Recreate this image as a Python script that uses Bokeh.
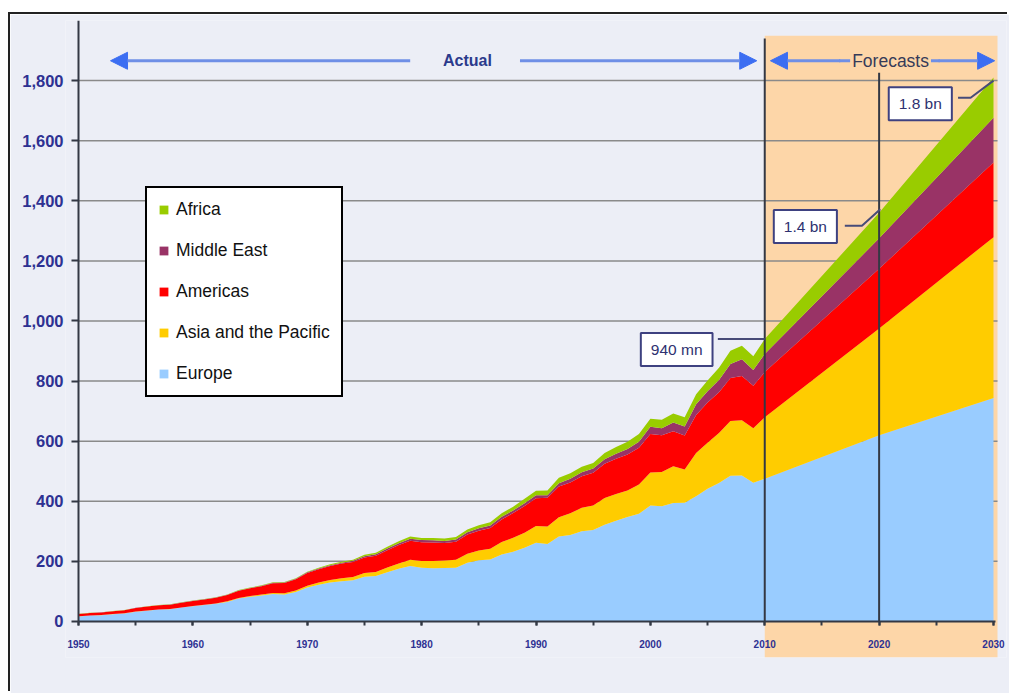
from bokeh.plotting import figure
from bokeh.models import (ColumnDataSource, Legend, LegendItem, Label, Arrow, NormalHead,
                          FixedTicker, SingleIntervalTicker, NumeralTickFormatter, Range1d,
                          LinearAxis)
from bokeh.embed import file_html
from bokeh.resources import INLINE

# International tourist arrivals by region (millions), actual 1950-2010, forecasts 2020 and 2030
years = list(range(1950, 2011)) + [2020, 2030]

europe = [16.8, 19.5, 21.0, 24.0, 26.5, 32.5, 36.0, 39.5, 40.5, 46.0,
          50.4, 54.5, 58.5, 65.0, 76.0, 82.0, 86.0, 91.0, 89.5, 98.0,
          113.0, 122.5, 130.0, 134.0, 137.0, 149.0, 151.0, 164.0, 175.0, 184.5,
          178.5, 177.0, 177.5, 178.5, 195.0, 204.0, 206.0, 223.0, 232.0, 245.0,
          261.5, 258.0, 283.0, 288.0, 300.0, 304.1, 322.0, 335.0, 348.0, 358.0,
          385.6, 383.5, 394.0, 395.0, 417.0, 441.5, 461.0, 485.0, 485.3, 461.5,
          475.3, 620.0, 744.0]
asia_pacific = [0.2, 0.3, 0.3, 0.4, 0.4, 0.5, 0.5, 0.6, 0.7, 0.8,
                0.9, 1.1, 1.4, 1.8, 2.3, 2.8, 3.3, 3.8, 4.2, 5.0,
                6.2, 7.0, 8.2, 9.5, 10.5, 12.0, 13.8, 15.8, 18.2, 20.8,
                23.0, 24.5, 25.5, 27.0, 30.0, 32.5, 36.0, 41.5, 46.5, 50.0,
                55.8, 58.0, 64.0, 72.0, 78.0, 82.0, 89.0, 89.5, 88.0, 98.0,
                110.1, 114.0, 122.5, 111.0, 144.0, 153.6, 166.0, 182.0, 184.1, 181.1,
                204.0, 355.0, 535.0]
americas = [7.5, 8.3, 8.8, 9.6, 10.0, 11.8, 13.0, 13.8, 14.6, 15.8,
            16.7, 17.8, 19.2, 20.9, 23.8, 25.5, 28.0, 32.5, 34.5, 37.5,
            42.3, 44.5, 46.5, 49.0, 50.5, 51.5, 53.5, 57.0, 61.0, 63.5,
            62.3, 61.5, 58.0, 60.0, 64.5, 65.5, 69.0, 75.0, 82.0, 89.0,
            92.8, 95.5, 102.0, 102.5, 105.0, 109.0, 114.0, 117.0, 120.0, 122.0,
            128.2, 122.0, 116.5, 113.0, 125.8, 133.3, 135.8, 142.9, 147.8, 141.7,
            150.7, 199.0, 248.0]
middle_east = [0.2, 0.2, 0.3, 0.3, 0.3, 0.4, 0.4, 0.4, 0.5, 0.5,
               0.6, 0.7, 0.8, 0.9, 1.0, 1.1, 1.2, 1.3, 1.3, 1.5,
               1.9, 2.2, 2.5, 3.0, 3.8, 4.5, 5.1, 5.8, 6.4, 6.8,
               7.1, 7.3, 7.0, 7.3, 7.6, 8.4, 8.3, 8.6, 8.9, 9.5,
               9.6, 8.5, 11.0, 12.5, 13.5, 13.7, 15.0, 16.5, 17.5, 20.0,
               24.1, 23.5, 29.2, 30.0, 36.3, 37.9, 40.9, 46.6, 55.6, 52.8,
               60.3, 101.0, 149.0]
africa = [0.5, 0.5, 0.5, 0.6, 0.6, 0.6, 0.7, 0.7, 0.7, 0.8,
          0.8, 0.9, 1.0, 1.1, 1.3, 1.5, 1.6, 1.7, 1.8, 2.0,
          2.4, 2.8, 3.0, 3.4, 3.9, 4.6, 5.0, 5.6, 6.2, 7.0,
          7.2, 7.8, 8.0, 8.2, 8.9, 9.6, 10.7, 11.9, 12.6, 14.5,
          15.2, 16.0, 18.0, 18.5, 18.5, 18.9, 21.0, 22.5, 24.5, 26.0,
          26.2, 28.3, 29.5, 30.8, 33.3, 35.4, 40.7, 44.4, 44.4, 45.9,
          49.4, 85.0, 134.0]

region_keys = ["europe", "asia_pacific", "americas", "middle_east", "africa"]
region_names = ["Europe", "Asia and the Pacific", "Americas", "Middle East", "Africa"]
region_colors = ["#99ccff", "#ffcc00", "#ff0000", "#993366", "#99cc00"]

y_ticks = [0, 200, 400, 600, 800, 1000, 1200, 1400, 1600, 1800]
grid_values = y_ticks[1:]

# callout boxes: text, centre, leader-line path
callout_text = ["940 mn", "1.4 bn", "1.8 bn"]
callout_x = [2002.3, 2013.55, 2023.6]
callout_y = [905, 1314, 1723]
leader_xs = [[2005.9, 2010.0], [2017.0, 2018.5, 2020.1], [2026.9, 2028.0, 2030.0]]
leader_ys = [[940, 940], [1317, 1317, 1372], [1743, 1743, 1800]]

# period markers
marker_years = [2010, 2020]
marker_tops = [1940, 1826]

X_START, X_END = 1948.863, 2031.137
PLOT_RIGHT = 2030.35

BG = "#eceef6"
PEACH = "#fdd6a8"
NAVY = "#2e3192"
AXIS = "#333844"
ARROW_BLUE = "#3c6ef2"
LINE_BLUE = "#6f8fe6"

src = ColumnDataSource(dict(year=years, europe=europe, asia_pacific=asia_pacific,
                            americas=americas, middle_east=middle_east, africa=africa))

p = figure(width=999, height=679,
           x_range=Range1d(X_START, X_END), y_range=Range1d(-120, 2000),
           output_backend="svg", toolbar_location=None,
           min_border_left=55, min_border_right=3, min_border_top=6, min_border_bottom=36,
           background_fill_color=BG, border_fill_color=BG, outline_line_color=None,
           margin=(14, 0, 0, 10),
           styles={"box-shadow": "-2px -2px 0 0 #222222"})

# forecast period shading, then horizontal rules, both beneath the areas
p.quad(left=[2010], right=[PLOT_RIGHT], bottom=[-120], top=[1949],
       fill_color=PEACH, line_color=None, level="image")
p.segment(x0=[1950] * len(grid_values), x1=[PLOT_RIGHT] * len(grid_values),
          y0=grid_values, y1=grid_values, line_color="#8a8a8a", line_width=1.5,
          level="underlay")
p.xgrid.grid_line_color = None
p.ygrid.grid_line_color = None

areas = p.varea_stack(stackers=region_keys, x="year", color=region_colors, source=src)

p.segment(x0=marker_years, y0=[0, 0], x1=marker_years, y1=marker_tops,
          line_color=AXIS, line_width=2)

# x axis drawn along zero
p.xaxis.fixed_location = 0
p.xaxis.ticker = SingleIntervalTicker(interval=10, num_minor_ticks=2)
p.xaxis.bounds = (1950, 2030.2)
p.xaxis.axis_line_color = AXIS
p.xaxis.axis_line_width = 2
p.xaxis.major_tick_line_color = AXIS
p.xaxis.minor_tick_line_color = AXIS
p.xaxis.major_tick_in = 0
p.xaxis.major_tick_out = 4
p.xaxis.minor_tick_in = 0
p.xaxis.minor_tick_out = 4
p.xaxis.major_tick_line_width = 2
p.xaxis.minor_tick_line_width = 2
p.xaxis.major_label_standoff = 15
p.xaxis.major_label_text_font = "Liberation Sans"
p.xaxis.major_label_text_font_size = "10px"
p.xaxis.major_label_text_font_style = "bold"
p.xaxis.major_label_text_color = NAVY

# y tick labels in the left margin
p.yaxis.ticker = FixedTicker(ticks=y_ticks)
p.yaxis.formatter = NumeralTickFormatter(format="0,0")
p.yaxis.axis_line_color = None
p.yaxis.major_tick_line_color = None
p.yaxis.minor_tick_line_color = None
p.yaxis.major_tick_in = 0
p.yaxis.major_tick_out = 0
p.yaxis.major_label_standoff = 2
p.yaxis.major_label_text_font = "Liberation Sans"
p.yaxis.major_label_text_font_size = "16.5px"
p.yaxis.major_label_text_font_style = "bold"
p.yaxis.major_label_text_color = NAVY

# y axis line and ticks at 1950
y_line = LinearAxis(fixed_location=1950, ticker=FixedTicker(ticks=y_ticks), bounds=(0, 2000),
                    major_label_overrides={t: "" for t in y_ticks},
                    axis_line_color=AXIS, axis_line_width=2,
                    major_tick_line_color=AXIS, major_tick_line_width=2,
                    major_tick_in=7, major_tick_out=0, minor_tick_line_color=None,
                    major_label_standoff=0)
p.add_layout(y_line, "right")

# period arrows
def arrow(x0, x1, y):
    p.add_layout(Arrow(end=NormalHead(size=17, fill_color=ARROW_BLUE, line_color=ARROW_BLUE),
                       x_start=x0, y_start=y, x_end=x1, y_end=y,
                       line_color=LINE_BLUE, line_width=3))

arrow(1979.0, 1952.8, 1866)
arrow(1988.6, 2009.3, 1866)
arrow(2016.6, 2010.5, 1866)
arrow(2025.2, 2030.1, 1866)
p.segment(x0=[2016.5], y0=[1866], x1=[2025.3], y1=[1866], line_color=LINE_BLUE, line_width=3)

p.add_layout(Label(x=1984.0, y=1866, text="Actual", text_align="center", text_baseline="middle",
                   text_font="Liberation Sans", text_font_size="16px", text_font_style="bold",
                   text_color="#2b3a8c"))
p.add_layout(Label(x=2021.0, y=1866, text="Forecasts", text_align="center", text_baseline="middle",
                   text_font="Liberation Sans", text_font_size="17.5px",
                   text_color="#363b58", background_fill_color=PEACH, padding=(2, 0)))

# callouts
p.multi_line(xs=leader_xs, ys=leader_ys, line_color="#474b78", line_width=2)
for t, cx, cy in zip(callout_text, callout_x, callout_y):
    p.add_layout(Label(x=cx, y=cy, text=t, text_align="center", text_baseline="middle",
                       text_font="Liberation Sans", text_font_size="15.5px",
                       text_color="#2e3170", background_fill_color="white",
                       border_line_color="#3e4180", border_line_width=2,
                       padding=(10, 8)))

# legend, top entry first
items = [LegendItem(label=n, renderers=[r]) for n, r in zip(region_names, areas)][::-1]
legend = Legend(items=items, location=(80, 260), orientation="vertical",
                padding=11, spacing=20, label_height=20, glyph_height=11, glyph_width=11,
                label_standoff=7, margin=0,
                border_line_color="black", border_line_width=2, border_line_alpha=1,
                background_fill_color="white", background_fill_alpha=1,
                label_text_font="Liberation Sans", label_text_font_size="17.5px",
                label_text_color="#111111")
p.add_layout(legend)

open("out.html", "w").write(file_html(p, INLINE))
